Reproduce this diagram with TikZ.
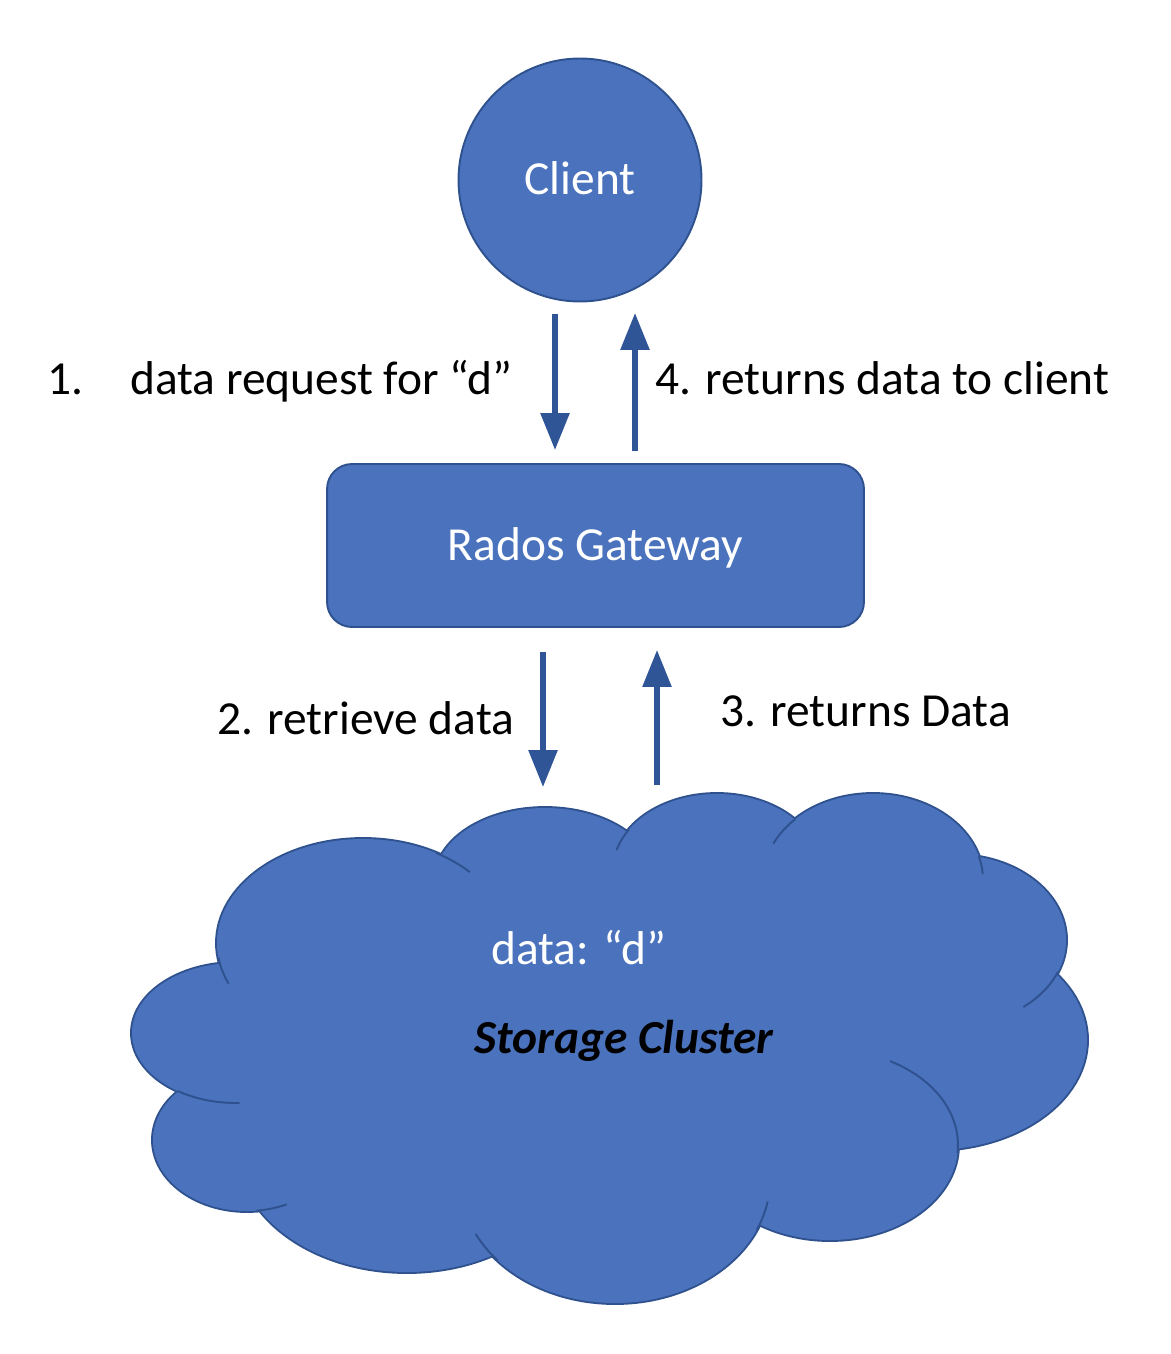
\documentclass[tikz,border=0pt]{standalone}
\usepackage{fontspec}
\setmainfont{Carlito}
\usetikzlibrary{arrows.meta}

\definecolor{officeblue}{RGB}{74,114,189}
\definecolor{officeline}{RGB}{47,82,143}
\definecolor{arrowblue}{RGB}{47,85,151}

\begin{document}
\begin{tikzpicture}[
    x=0.02cm, y=-0.02cm,
    shapebox/.style={draw=officeline, line width=1.1pt, fill=officeblue, text=white, align=center,
        font=\fontsize{27}{32}\selectfont, text height=17pt, text depth=0pt, inner sep=0pt},
    lbl/.style={anchor=base west, inner sep=0pt, font=\fontsize{27}{32}\selectfont},
    flow/.style={draw=arrowblue, line width=3pt, -{Triangle[length=21pt, width=16pt]}},
    lobe/.style={draw=officeline, line width=2.2pt},
    tick/.style={draw=officeline, line width=1.1pt},
]
\useasboundingbox (0,0) rectangle (1170,1354);

\node[shapebox, circle, minimum size=4.86cm] (client) at (580,180) {Client};
\node[shapebox, rounded corners=0.5cm, minimum width=10.74cm, minimum height=3.26cm] (gateway) at (595.5,545.5) {Rados Gateway};

% storage cluster cloud: outline of every lobe, then the fill on top
\foreach \cx/\cy/\rx/\ry in {363/943/146/104, 545/880/110/72, 717/870/104/76, 873/880/110/86,
    955/940/111/85, 932/1040/155/110, 830/1145/128/95, 615/1180/155/123, 407/1150/169/122,
    247/1140/94/71, 236/1033/104/70}
  \draw[lobe] (\cx,\cy) ellipse [x radius=\rx, y radius=\ry];
\foreach \cx/\cy/\rx/\ry in {363/943/146/104, 545/880/110/72, 717/870/104/76, 873/880/110/86,
    955/940/111/85, 932/1040/155/110, 830/1145/128/95, 615/1180/155/123, 407/1150/169/122,
    247/1140/94/71, 236/1033/104/70}
  \fill[officeblue] (\cx,\cy) ellipse [x radius=\rx, y radius=\ry];
\fill[officeblue] (363,943) -- (545,880) -- (717,870) -- (873,880) -- (955,940) -- (932,1040)
    -- (830,1145) -- (615,1180) -- (407,1150) -- (247,1140) -- (236,1033) -- cycle;

% inner arcs of the cloud
\foreach \cx/\cy/\rx/\ry/\ta/\tb in {363/943/146/104/-60/-43, 363/943/146/104/172/157,
    717/870/104/76/212/195, 873/880/110/86/225/205, 873/880/110/86/-16/-4,
    955/940/111/85/22/52, 830/1145/128/95/-62/5, 615/1180/155/123/24/10,
    615/1180/155/123/139/154, 247/1140/94/71/84/65, 236/1033/104/70/124/88}
  \draw[tick] plot[domain=\ta:\tb, samples=20, variable=\ang] ({\cx+\rx*cos(\ang)},{\cy+\ry*sin(\ang)});

\node[lbl, text=white] (datad) at (491,964) {data: “d”};
\node[lbl, font=\fontsize{27}{32}\selectfont\bfseries\itshape] (cluster) at (474,1053) {Storage Cluster};

\node[lbl] (step1) at (47,395) {\makebox[1.66cm][l]{1.}data request for “d”};
\node[lbl] (step4) at (655,395) {4. returns data to client};
\node[lbl] (step2) at (217,734) {2. retrieve data};
\node[lbl] (step3) at (720,726) {3. returns Data};

\coordinate (reqtop) at (555,314);
\coordinate (reqbot) at (555,450);
\coordinate (rettop) at (635,313);
\coordinate (retbot) at (635,451);
\coordinate (gettop) at (543,652);
\coordinate (getbot) at (543,787);
\coordinate (backtop) at (657,650);
\coordinate (backbot) at (657,785);

\draw[flow] (reqtop) -- (reqbot);
\draw[flow] (retbot) -- (rettop);
\draw[flow] (gettop) -- (getbot);
\draw[flow] (backbot) -- (backtop);
\end{tikzpicture}
\end{document}
